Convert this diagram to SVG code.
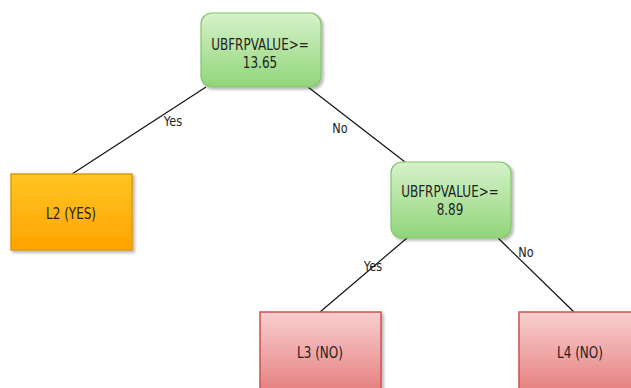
<svg xmlns="http://www.w3.org/2000/svg" width="631" height="388" viewBox="0 0 631 388">
<defs>
<linearGradient id="gGreen" x1="0" y1="0" x2="0" y2="1"><stop offset="0" stop-color="#d6f2c9"/><stop offset="1" stop-color="#90d57a"/></linearGradient>
<linearGradient id="gOrange" x1="0" y1="0" x2="0" y2="1"><stop offset="0" stop-color="#ffc524"/><stop offset="1" stop-color="#ffa400"/></linearGradient>
<linearGradient id="gRed" x1="0" y1="0" x2="0" y2="1"><stop offset="0" stop-color="#f8cfcf"/><stop offset="1" stop-color="#e68080"/></linearGradient>
<filter id="sh" x="-10%" y="-10%" width="130%" height="130%"><feGaussianBlur in="SourceAlpha" stdDeviation="1.5"/><feOffset dx="2" dy="2"/><feComponentTransfer><feFuncA type="linear" slope="0.3"/></feComponentTransfer><feMerge><feMergeNode/><feMergeNode in="SourceGraphic"/></feMerge></filter>
</defs>
<style>
text{font-family:"DejaVu Sans","Verdana",sans-serif;fill:#222;text-anchor:middle}
.n{font-size:15px}
.e{font-size:14.5px}
.dec{fill:url(#gGreen);stroke:#86c270;stroke-width:1.2}
.leafY{fill:url(#gOrange);stroke:#dc9a10;stroke-width:1.5}
.leafN{fill:url(#gRed);stroke:#cc5252;stroke-width:1.5}
.c line{stroke:#111;stroke-width:1.2}
</style>
<rect width="631" height="388" fill="#ffffff"/>
<g class="c" id="connectors">
<line x1="206" y1="87" x2="72" y2="174"/>
<line x1="308" y1="87" x2="405" y2="162"/>
<line x1="407" y1="238" x2="320" y2="312"/>
<line x1="498" y1="238" x2="574" y2="312"/>
<text class="e" transform="translate(173,126) scale(0.78,1)">Yes</text>
<text class="e" transform="translate(340,133) scale(0.78,1)">No</text>
<text class="e" transform="translate(373,271) scale(0.78,1)">Yes</text>
<text class="e" transform="translate(526,257) scale(0.78,1)">No</text>
</g>
<g id="root">
<rect class="dec" x="201" y="13" width="120" height="74" rx="11" filter="url(#sh)"/>
<text class="n" transform="translate(260,50) scale(0.8,1)">UBFRPVALUE&gt;=</text>
<text class="n" transform="translate(260,68) scale(0.8,1)">13.65</text>
</g>
<g id="L2">
<rect class="leafY" x="11" y="174" width="121" height="76" filter="url(#sh)"/>
<text class="n" transform="translate(71,219) scale(0.8,1)">L2 (YES)</text>
</g>
<g id="node2">
<rect class="dec" x="391" y="162" width="120" height="76" rx="11" filter="url(#sh)"/>
<text class="n" transform="translate(450,197) scale(0.8,1)">UBFRPVALUE&gt;=</text>
<text class="n" transform="translate(450,215) scale(0.8,1)">8.89</text>
</g>
<g id="L3">
<rect class="leafN" x="260" y="312" width="121" height="80" filter="url(#sh)"/>
<text class="n" transform="translate(320,358) scale(0.8,1)">L3 (NO)</text>
</g>
<g id="L4">
<rect class="leafN" x="519" y="312" width="125" height="80" filter="url(#sh)"/>
<text class="n" transform="translate(580,358) scale(0.8,1)">L4 (NO)</text>
</g>
</svg>
